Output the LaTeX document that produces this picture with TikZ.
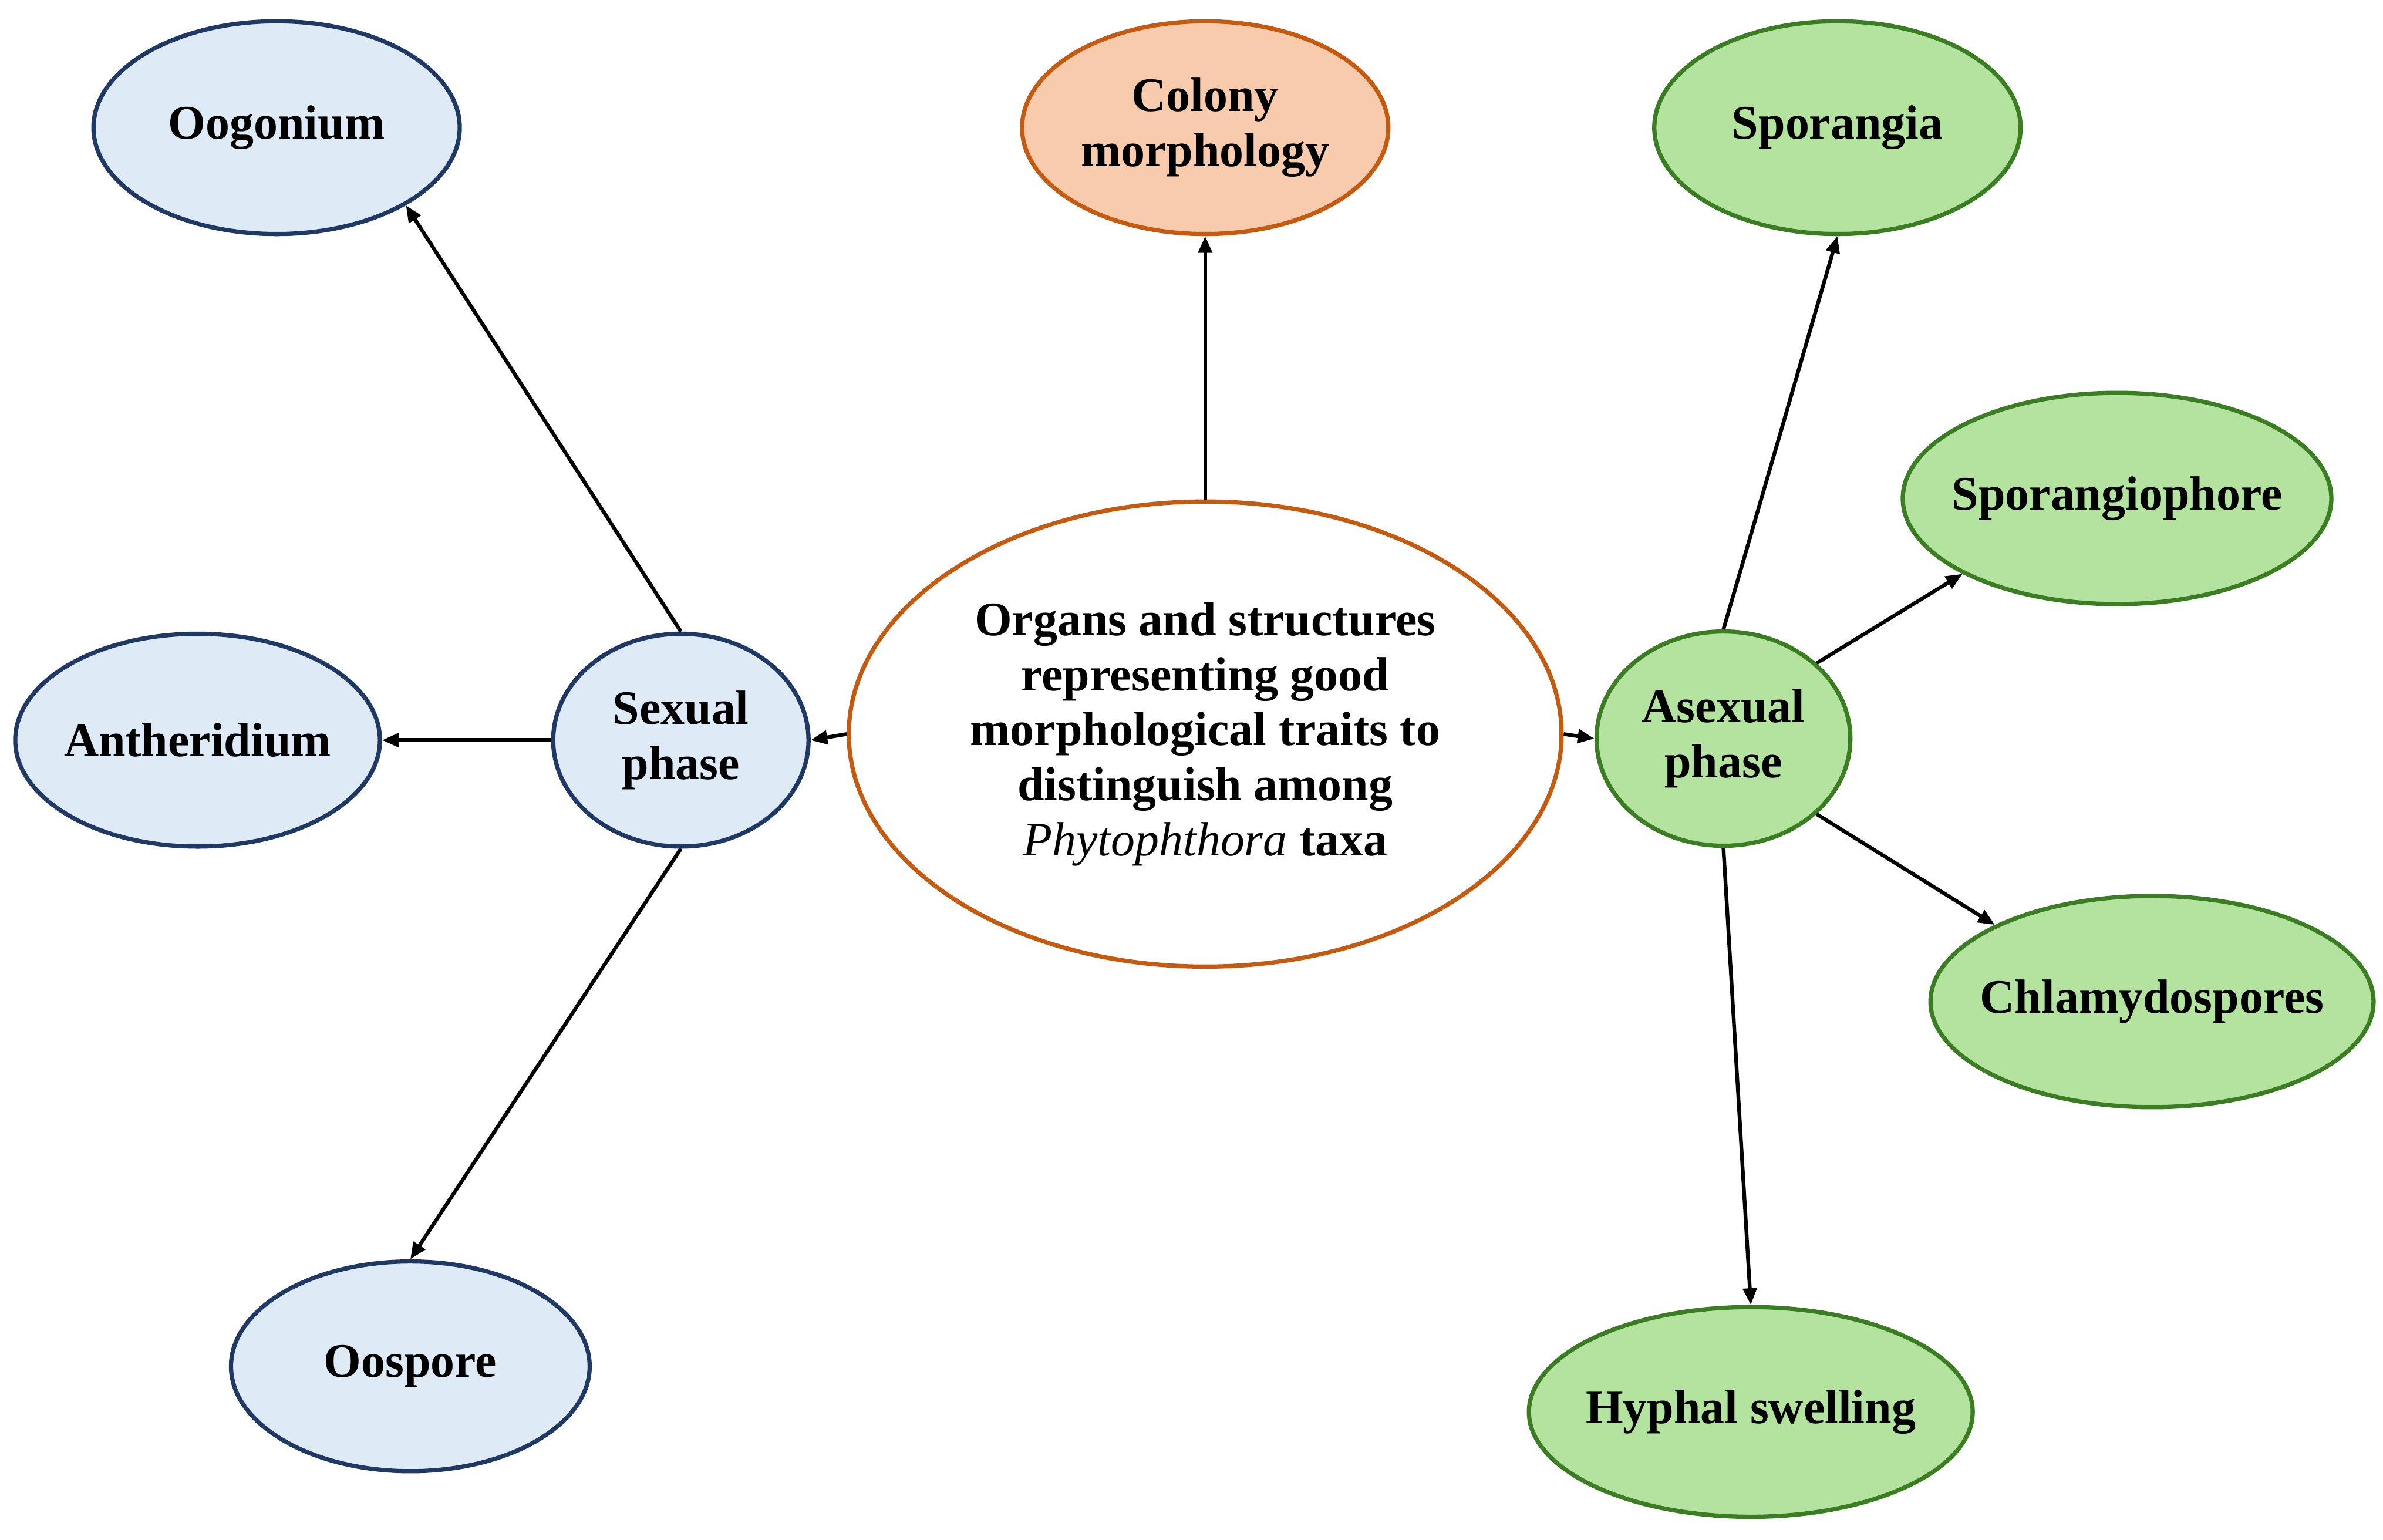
\documentclass[tikz,border=0pt]{standalone}
\usepackage{fontspec}
\setmainfont{Liberation Serif}
\usetikzlibrary{arrows.meta,shapes.geometric}

\definecolor{sexfill}{HTML}{DEEBF7}
\definecolor{sexline}{HTML}{1F3864}
\definecolor{colfill}{HTML}{F8CBAD}
\definecolor{colline}{HTML}{C55A11}
\definecolor{asexfill}{HTML}{B4E3A0}
\definecolor{asexline}{HTML}{3A7D22}

\begin{document}
\begin{tikzpicture}[
    trait/.style={draw, ellipse, line width=0.8pt, inner xsep=-1mm, inner ysep=0pt, align=center, font=\bfseries\fontsize{9}{10.3}\selectfont, minimum height=1.40cm},
    sexnode/.style={trait, fill=sexfill, draw=sexline},
    asexnode/.style={trait, fill=asexfill, draw=asexline},
    arr/.style={-{Triangle[length=1.1mm,width=0.9mm]}, line width=0.7pt}
]
\useasboundingbox (0,0) rectangle (15.68,10.13);

% Centre
\node[trait, fill=white, draw=colline, minimum width=4.69cm, minimum height=3.06cm] (centre) at (7.93, 5.30)
    {Organs and structures\\representing good\\morphological traits to\\distinguish among\\{\mdseries\itshape Phytophthora} taxa};
\node[trait, fill=colfill, draw=colline, minimum width=2.41cm] (colony) at (7.93, 9.29) {Colony\\morphology};

% Sexual phase
\node[sexnode, minimum width=1.68cm] (sex)   at (4.48, 5.26) {Sexual\\phase};
\node[sexnode, minimum width=2.41cm] (oog)   at (1.82, 9.29) {Oogonium};
\node[sexnode, minimum width=2.40cm] (anth)  at (1.30, 5.26) {Antheridium};
\node[sexnode, minimum width=2.36cm, minimum height=1.38cm] (oosp) at (2.70, 1.14) {Oospore};

% Asexual phase
\node[asexnode, minimum width=1.67cm, minimum height=1.41cm] (asex) at (11.34, 5.27) {Asexual\\phase};
\node[asexnode, minimum width=2.41cm] (spor)   at (12.09, 9.29) {Sporangia};
\node[asexnode, minimum width=2.82cm, minimum height=1.39cm] (sporph) at (13.93, 6.85) {Sporangiophore};
\node[asexnode, minimum width=2.90cm, minimum height=1.39cm] (chlam)  at (14.16, 3.54) {Chlamydospores};
\node[asexnode, minimum width=2.92cm, minimum height=1.38cm] (hyph)   at (11.52, 0.84) {Hyphal swelling};

\draw[arr] (centre.north) -- (colony.south);
\draw[arr] (centre.west)  -- (sex.east);
\draw[arr] (centre.east)  -- (asex.west);
\draw[arr] (sex.north)    -- (oog.-31);
\draw[arr] (sex.west)     -- (anth.east);
\draw[arr] (sex.south)    -- (oosp.north);
\draw[arr] (asex.north)   -- (spor.south);
\draw[arr] (asex.39)      -- (sporph.206);
\draw[arr] (asex.-39)     -- (chlam.154);
\draw[arr] (asex.south)   -- (hyph.north);
\end{tikzpicture}
\end{document}
